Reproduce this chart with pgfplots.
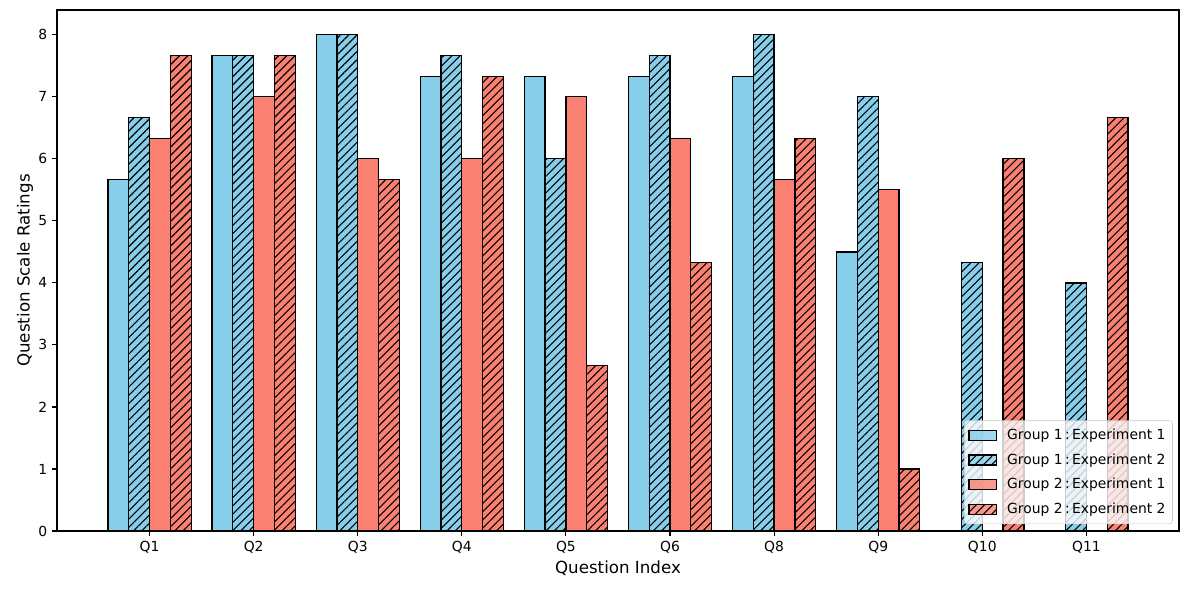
\documentclass[border=0pt]{standalone}
\usepackage{fontspec}
\setmainfont{DejaVu Sans}
\usepackage{pgfplots}
\pgfplotsset{compat=1.18}
\usetikzlibrary{patterns.meta}
\definecolor{skyblue}{RGB}{135,206,235}
\definecolor{salmon}{RGB}{250,128,114}
\begin{document}
\begin{tikzpicture}
\begin{axis}[
  scale only axis,
  width=807.8pt, height=375.1pt,
  xmin=-0.89, xmax=9.89, ymin=0, ymax=8.4,
  xtick={0,1,2,3,4,5,6,7,8,9},
  xticklabels={Q1,Q2,Q3,Q4,Q5,Q6,Q8,Q9,Q10,Q11},
  ytick={0,1,2,3,4,5,6,7,8},
  tick align=outside, major tick length=3.5pt,
  xtick pos=lower, ytick pos=left,
  tick style={black, line width=0.8pt},
  axis line style={line width=0.8pt},
  /pgf/number format/assume math mode=true,
  ticklabel style={font=\fontsize{10}{12}\selectfont},
  xlabel={Question Index}, ylabel={Question Scale Ratings},
  label style={font=\fontsize{12}{14}\selectfont},
  xlabel style={yshift=1pt},
  ylabel style={yshift=-3pt},
  ybar, bar width=0.2,
  every axis plot/.append style={draw=black, line width=0.9pt},
  legend style={at={(1,0)}, anchor=south east, xshift=-4.5pt, yshift=5pt,
    draw=black!20, rounded corners=2pt, fill=white, fill opacity=0.8, text opacity=1,
    font=\fontsize{10}{12}\selectfont, row sep=4.6pt, inner xsep=3pt, inner ysep=4pt},
  legend cell align=left,
  legend image code/.code={\draw[#1, sharp corners] (0pt,-3.6pt) rectangle (20pt,3.6pt); \node[inner sep=0pt, minimum size=0pt, draw=none, fill=none] at (25pt,0pt) {};},
]
\addplot[fill=skyblue, bar shift=-0.3] coordinates {
 (0,5.67) (1,7.67) (2,8.0) (3,7.33) (4,7.33) (5,7.33) (6,7.33) (7,4.5) (8,0) (9,0)};
\addplot[fill=skyblue, bar shift=-0.1, postaction={pattern={Lines[angle=45,distance=4.2pt,line width=0.8pt]}, pattern color=black}] coordinates {
 (0,6.67) (1,7.67) (2,8.0) (3,7.67) (4,6.0) (5,7.67) (6,8.0) (7,7.0) (8,4.33) (9,4.0)};
\addplot[fill=salmon, bar shift=0.1] coordinates {
 (0,6.33) (1,7.0) (2,6.0) (3,6.0) (4,7.0) (5,6.33) (6,5.67) (7,5.5) (8,0) (9,0)};
\addplot[fill=salmon, bar shift=0.3, postaction={pattern={Lines[angle=45,distance=4.2pt,line width=0.8pt]}, pattern color=black}] coordinates {
 (0,7.67) (1,7.67) (2,5.67) (3,7.33) (4,2.67) (5,4.33) (6,6.33) (7,1.0) (8,6.0) (9,6.67)};
\legend{Group 1\,:\,Experiment 1, Group 1\,:\,Experiment 2, Group 2\,:\,Experiment 1, Group 2\,:\,Experiment 2}
\end{axis}
\pgfresetboundingbox
\path[use as bounding box] ([xshift=-41pt,yshift=-42.5pt]current axis.south west) rectangle ([xshift=7.2pt,yshift=7.2pt]current axis.north east);
\end{tikzpicture}
\end{document}
